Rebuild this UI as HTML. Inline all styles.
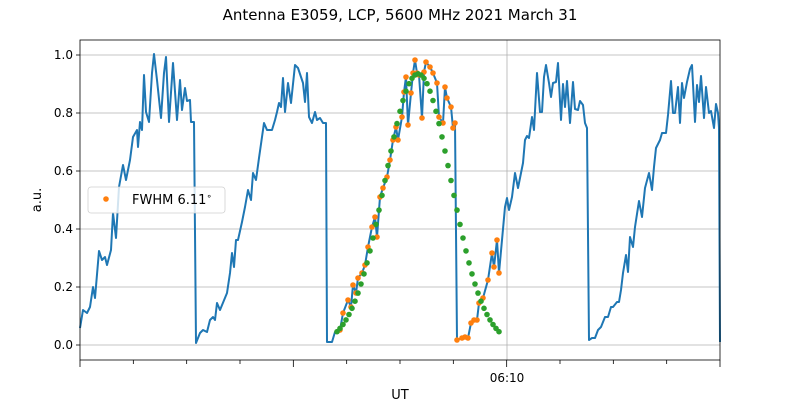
<!DOCTYPE html>
<html><head><meta charset="utf-8"><style>
body{margin:0;background:#fff;}
svg{font-family:"DejaVu Sans","Liberation Sans",sans-serif;}
</style></head><body>
<svg id="s" width="800" height="400" xmlns="http://www.w3.org/2000/svg">
<rect width="800" height="400" fill="#fff"/>
<text x="400" y="20" font-size="15" text-anchor="middle">Antenna E3059, LCP, 5600 MHz 2021 March 31</text>
<g stroke="#b0b0b0" stroke-width="0.8">
<line x1="80" x2="720" y1="345" y2="345"/><line x1="80" x2="720" y1="287" y2="287"/>
<line x1="80" x2="720" y1="229" y2="229"/><line x1="80" x2="720" y1="171" y2="171"/>
<line x1="80" x2="720" y1="113" y2="113"/><line x1="80" x2="720" y1="55" y2="55"/>
<line x1="507" x2="507" y1="40" y2="360"/>
</g>
<g id="data"></g>
<rect x="80" y="40" width="640" height="320" fill="none" stroke="#000" stroke-width="0.8"/>
<g id="ticks" stroke="#000" stroke-width="0.8"></g>
<g font-size="12" text-anchor="end">
<text x="73" y="349">0.0</text><text x="73" y="291">0.2</text><text x="73" y="233">0.4</text>
<text x="73" y="175">0.6</text><text x="73" y="117">0.8</text><text x="73" y="59">1.0</text>
</g>
<text x="507" y="382" font-size="12" text-anchor="middle">06:10</text>
<text x="400" y="399" font-size="13" text-anchor="middle">UT</text>
<text transform="translate(41,200) rotate(-90)" font-size="13" text-anchor="middle">a.u.</text>
<rect x="88" y="187" width="137" height="26" rx="3" fill="#fff" fill-opacity="0.8" stroke="#d0d0d0" stroke-width="0.8"/>
<circle cx="106" cy="199" r="2.8" fill="#ff7f0e"/>
<text x="132" y="204" font-size="13">FWHM 6.11<tspan font-size="9" dy="-5">∘</tspan></text>
</svg>
<script>
var P=[[80,328],[83,310],[87,313],[90,307],[93,287],[95,298],[99,251],[102,260],[105,257],[107,265],[111,250],[113,213],[116,238],[119,187],[123,165],[126,180],[130,160],[133,137],[137,130],[138,147],[140,122],[142,130],[144,75],[146,112],[149,122],[152,73],[154,54],[157,80],[161,118],[164,73],[166,57],[169,122],[173,63],[177,120],[180,80],[182,110],[185,88],[187,101],[190,100],[191,122],[194,122],[196,343],
[200,333],[203,330],[207,332],[210,320],[213,317],[215,320],[217,303],[220,310],[227,293],[230,273],[232,253],[234,267],[236,240],[238,240],[242,222],[245,207],[248,190],[251,200],[253,173],[256,180],[259,158],[262,137],[264,123],[267,130],[272,130],[275,120],[277,112],[279,103],[281,107],[283,78],[285,112],[288,83],[291,103],[295,65],[298,68],[303,83],[305,102],[307,73],[309,117],[312,123],[315,112],[317,120],[320,118],[323,123],[326,123],[327,342],
[332,342],[335,332],[340,330],[343,313],[348,300],[351,307],[353,285],[356,293],[358,278],[362,273],[365,265],[368,247],[372,227],[375,217],[377,237],[380,197],[383,188],[387,177],[390,160],[393,140],[396,127],[398,140],[402,117],[404,92],[406,77],[408,125],[411,93],[413,73],[415,60],[417,73],[419,75],[422,118],[424,72],[426,62],[430,67],[433,73],[437,83],[439,117],[443,123],[445,87],[447,98],[451,107],[453,128],[455,123],[457,340],
[462,338],[465,337],[468,338],[471,323],[474,320],[477,320],[479,303],[483,298],[488,280],[492,253],[494,267],[497,240],[499,273],[502,240],[505,207],[507,198],[509,210],[512,197],[515,173],[518,188],[523,163],[525,140],[527,136],[529,138],[532,117],[534,130],[537,73],[540,112],[542,112],[544,77],[546,65],[549,83],[551,97],[553,83],[556,82],[558,63],[561,120],[563,84],[565,107],[567,81],[570,123],[573,82],[575,109],[578,110],[580,101],[583,105],[585,123],[587,128],[589,340],
[592,338],[595,338],[598,330],[601,327],[605,317],[608,317],[611,307],[613,307],[617,302],[619,302],[621,290],[623,273],[626,255],[628,272],[630,237],[633,247],[635,227],[639,201],[642,217],[645,188],[649,173],[652,190],[654,167],[656,148],[660,140],[662,133],[666,133],[668,115],[671,81],[673,113],[675,113],[678,87],[680,123],[682,83],[684,98],[687,82],[690,69],[692,65],[695,122],[697,85],[699,102],[701,76],[704,118],[706,87],[709,113],[711,111],[714,128],[716,104],[718,113],[719,128],[720,342]];
var g=document.getElementById('data'),h='';
h+='<polyline fill="none" stroke="#1f77b4" stroke-width="2" stroke-linejoin="round" points="'+P.map(p=>p.join(',')).join(' ')+'"/>';
P.forEach(function(p){if(p[0]>=337&&p[0]<=499)h+='<circle cx="'+p[0]+'" cy="'+p[1]+'" r="2.8" fill="#ff7f0e"/>';});
for(var x=337;x<=500;x+=3){var v=0.935*Math.exp(-Math.pow(x-418,2)/(2*33*33));h+='<circle cx="'+x+'" cy="'+(345-290*v).toFixed(1)+'" r="2.8" fill="#2ca02c"/>';}
g.innerHTML=h;
var t='';for(var i=0;i<=12;i++){var x=80+i*640/12;t+='<line x1="'+x+'" x2="'+x+'" y1="360" y2="'+(i%4==0?367:364)+'"/>';}
[345,287,229,171,113,55].forEach(function(y){t+='<line x1="76" x2="80" y1="'+y+'" y2="'+y+'"/>';});
document.getElementById('ticks').innerHTML=t;
</script>
</body></html>
